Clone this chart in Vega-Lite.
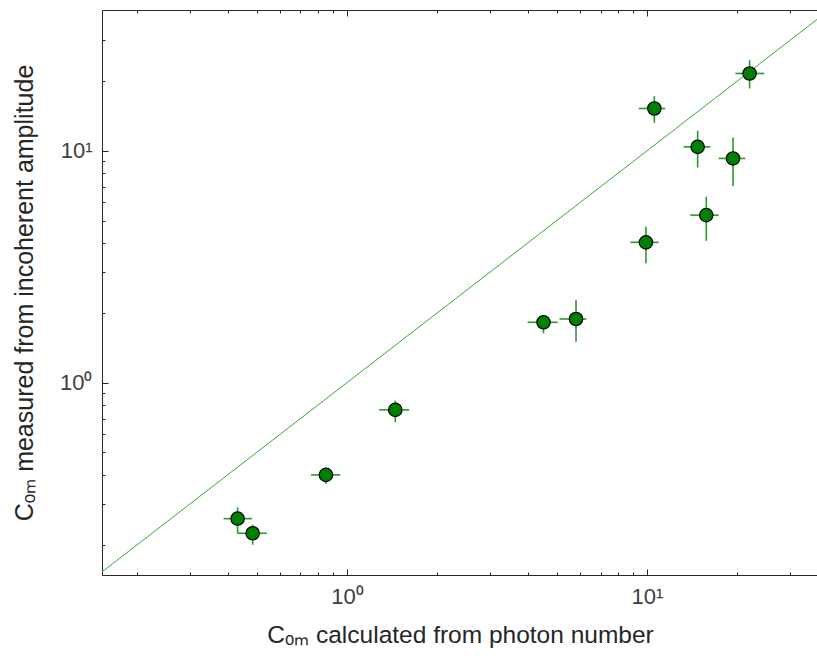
{
  "$schema": "https://vega.github.io/schema/vega-lite/v6.json",
  "autosize": {"type": "none"},
  "padding": {"left": 102, "top": 10, "right": 0, "bottom": 84},
  "width": 716,
  "height": 565,
  "background": "white",
  "config": {
    "view": {"stroke": null},
    "axis": {"grid": false, "labelFont": "Liberation Sans", "titleFont": "Liberation Sans", "domainColor": "#262626", "tickColor": "#262626", "labelColor": "#404040", "titleColor": "#262626", "titleFontWeight": "normal"}
  },
  "data": {"values": [
    {"x": 0.432, "xlo": 0.388, "xhi": 0.482, "y": 0.259, "ylo": 0.224, "yhi": 0.290},
    {"x": 0.485, "xlo": 0.432, "xhi": 0.541, "y": 0.224, "ylo": 0.200, "yhi": 0.244},
    {"x": 0.851, "xlo": 0.759, "xhi": 0.950, "y": 0.400, "ylo": 0.366, "yhi": 0.429},
    {"x": 1.449, "xlo": 1.281, "xhi": 1.613, "y": 0.763, "ylo": 0.675, "yhi": 0.836},
    {"x": 4.52, "xlo": 4.00, "xhi": 5.04, "y": 1.821, "ylo": 1.633, "yhi": 1.958},
    {"x": 5.80, "xlo": 5.11, "xhi": 6.28, "y": 1.882, "ylo": 1.502, "yhi": 2.273},
    {"x": 9.92, "xlo": 8.80, "xhi": 10.93, "y": 4.03, "ylo": 3.27, "yhi": 4.70},
    {"x": 10.58, "xlo": 9.38, "xhi": 11.51, "y": 15.23, "ylo": 13.20, "yhi": 17.21},
    {"x": 14.75, "xlo": 13.24, "xhi": 16.26, "y": 10.40, "ylo": 8.48, "yhi": 12.20},
    {"x": 15.76, "xlo": 13.94, "xhi": 17.33, "y": 5.28, "ylo": 4.09, "yhi": 6.34},
    {"x": 19.35, "xlo": 17.33, "xhi": 21.27, "y": 9.27, "ylo": 7.04, "yhi": 11.42},
    {"x": 21.98, "xlo": 19.70, "xhi": 24.60, "y": 21.56, "ylo": 18.58, "yhi": 24.60}
  ]},
  "resolve": {"axis": {"x": "independent", "y": "independent"}},
  "layer": [
    {
      "data": {"values": [{"d": 0.148}, {"d": 40.5}]},
      "mark": {"type": "line", "color": "#3aaa3a", "strokeWidth": 1, "clip": true},
      "encoding": {
        "x": {"field": "d", "type": "quantitative",
          "scale": {"type": "log", "domain": [0.1526, 37.15], "nice": false},
          "axis": {"orient": "bottom", "values": [1, 10], "ticks": false, "domain": true, "domainWidth": 1,
            "labelExpr": "datum.value == 1 ? '10⁰' : '10¹'", "labelFontSize": 22, "labelPadding": 11,
            "title": "Cₒₘ calculated from photon number", "titleFontSize": 24.5, "titlePadding": 16}},
        "y": {"field": "d", "type": "quantitative",
          "scale": {"type": "log", "domain": [0.148, 40.5], "nice": false},
          "axis": {"orient": "left", "values": [1, 10], "ticks": false, "domain": true, "domainWidth": 1,
            "labelExpr": "datum.value == 1 ? '10⁰' : '10¹'", "labelFontSize": 22, "labelPadding": 10,
            "title": "Cₒₘ measured from incoherent amplitude", "titleFontSize": 25, "titlePadding": 22}}
      }
    },
    {
      "mark": {"type": "rule", "color": "#2a9a2a", "strokeWidth": 1.6},
      "encoding": {
        "x": {"field": "xlo", "type": "quantitative",
          "scale": {"type": "log", "domain": [0.1526, 37.15], "nice": false},
          "axis": {"orient": "bottom", "values": [1, 10], "tickSize": -6, "labels": false, "domain": false, "title": null}},
        "x2": {"field": "xhi"},
        "y": {"field": "y", "type": "quantitative",
          "scale": {"type": "log", "domain": [0.148, 40.5], "nice": false},
          "axis": {"orient": "left", "values": [1, 10], "tickSize": -6, "labels": false, "domain": false, "title": null}}
      }
    },
    {
      "mark": {"type": "rule", "color": "#2a9a2a", "strokeWidth": 1.6},
      "encoding": {
        "x": {"field": "x", "type": "quantitative",
          "scale": {"type": "log", "domain": [0.1526, 37.15], "nice": false},
          "axis": {"orient": "bottom", "values": [0.2, 0.3, 0.4, 0.5, 0.6, 0.7, 0.8, 0.9, 2, 3, 4, 5, 6, 7, 8, 9, 20, 30], "tickSize": -3, "labels": false, "domain": false, "title": null}},
        "y": {"field": "ylo", "type": "quantitative",
          "scale": {"type": "log", "domain": [0.148, 40.5], "nice": false},
          "axis": {"orient": "left", "values": [0.2, 0.3, 0.4, 0.5, 0.6, 0.7, 0.8, 0.9, 2, 3, 4, 5, 6, 7, 8, 9, 20, 30], "tickSize": -3, "labels": false, "domain": false, "title": null}},
        "y2": {"field": "yhi"}
      }
    },
    {
      "mark": {"type": "point", "filled": true, "fill": "#008000", "stroke": "black", "strokeWidth": 1.2, "size": 180, "opacity": 1},
      "encoding": {
        "x": {"field": "x", "type": "quantitative",
          "scale": {"type": "log", "domain": [0.1526, 37.15], "nice": false},
          "axis": {"orient": "top", "values": [1, 10], "tickSize": -6, "labels": false, "domain": true, "domainWidth": 1, "title": null}},
        "y": {"field": "y", "type": "quantitative",
          "scale": {"type": "log", "domain": [0.148, 40.5], "nice": false},
          "axis": null}
      }
    },
    {
      "data": {"values": [{"d": 1}]},
      "mark": {"type": "point", "opacity": 0},
      "encoding": {
        "x": {"field": "d", "type": "quantitative",
          "scale": {"type": "log", "domain": [0.1526, 37.15], "nice": false},
          "axis": {"orient": "top", "values": [0.2, 0.3, 0.4, 0.5, 0.6, 0.7, 0.8, 0.9, 2, 3, 4, 5, 6, 7, 8, 9, 20, 30], "tickSize": -3, "labels": false, "domain": false, "title": null}},
        "y": {"field": "d", "type": "quantitative",
          "scale": {"type": "log", "domain": [0.148, 40.5], "nice": false},
          "axis": null}
      }
    }
  ]
}
